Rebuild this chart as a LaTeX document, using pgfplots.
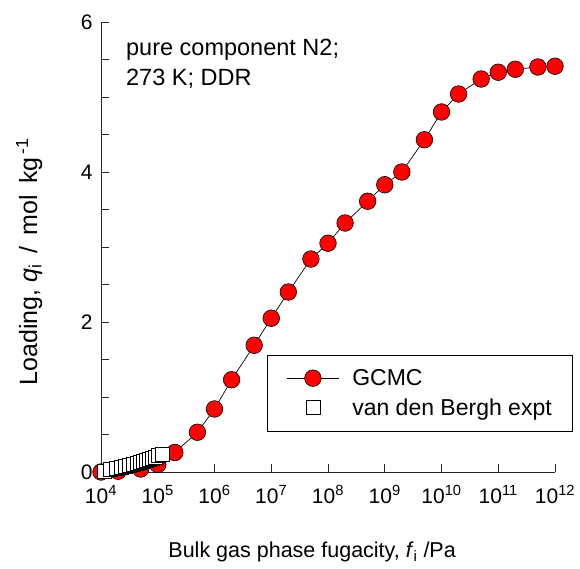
\documentclass[border=0pt]{standalone}
\usepackage{fontspec}
\setmainfont{Liberation Sans}
\usepackage{pgfplots}
\pgfplotsset{compat=1.18}
\begin{document}
\begin{tikzpicture}
\begin{axis}[name=ax, scale only axis, width=454pt, height=450pt,
  xmode=log, xmin=1e4, xmax=1e12, ymin=0, ymax=6,
  axis x line=bottom, axis y line=left,
  axis line style={-, line width=0.8pt, black!85},
  xtick={1e4,1e5,1e6,1e7,1e8,1e9,1e10,1e11,1e12},
  xticklabels={10\textsuperscript{4},10\textsuperscript{5},10\textsuperscript{6},10\textsuperscript{7},10\textsuperscript{8},10\textsuperscript{9},10\textsuperscript{10},10\textsuperscript{11},10\textsuperscript{12}},
  xminorticks=false,
  ytick={0,2,4,6}, minor ytick={0.5,1,1.5,2.5,3,3.5,4.5,5,5.5},
  tick align=inside, major tick length=8pt, minor tick length=8pt,
  tick style={black!85, line width=0.8pt},
  font=\fontsize{21}{25}\selectfont,
  xticklabel style={yshift=-10pt},
  yticklabel style={xshift=-5pt},
  /pgf/number format/assume math mode=true,
  clip=false,
  xlabel={Bulk gas phase fugacity, \textit{f}\textsubscript{i} /Pa},
  ylabel={Loading,\ \textit{q}\textsubscript{i}\ \,/\ \,mol\ \,kg\textsuperscript{\,-1}},
  xlabel style={at={(axis description cs:0.465,-0.178)}, anchor=center, font=\fontsize{21.5}{25}\selectfont},
  ylabel style={at={(axis description cs:-0.158,0.467)}, anchor=center, font=\fontsize{25}{29}\selectfont},
  legend style={at={(axis description cs:1.04,0.26)}, anchor=north east, draw=black, line width=0.8pt,
    inner xsep=19pt, inner ysep=12pt, row sep=8pt, font=\fontsize{23}{27}\selectfont},
  legend cell align=left,
]
\addplot[black, line width=0.7pt, mark=*, mark size=8.3pt, mark options={fill=red, draw=black, line width=0.6pt},
  legend image code/.code={\draw[black, line width=0.7pt] (0pt,0pt) -- (52pt,0pt);
    \draw[fill=red, draw=black, line width=0.6pt] (26pt,0pt) circle (8.3pt);}]
coordinates {
(1e4,0.0) (2e4,0.01) (5e4,0.04) (1e5,0.1) (2e5,0.26) (5e5,0.53)
(1e6,0.84) (2e6,1.23) (5e6,1.69) (1e7,2.05) (2e7,2.40) (5e7,2.84)
(1e8,3.05) (2e8,3.32) (5e8,3.61) (1e9,3.83) (2e9,4.00) (5e9,4.43)
(1e10,4.80) (2e10,5.04) (5e10,5.24) (1e11,5.33) (2e11,5.37) (5e11,5.40) (1e12,5.41)
};
\addlegendentry{\hspace*{11pt}GCMC}
\addplot[only marks, mark=square*, mark size=7pt, mark options={fill=white, draw=black, line width=0.6pt},
  legend image code/.code={\draw[fill=white, draw=black, line width=0.6pt] (19pt,-6pt) rectangle (33pt,8pt);}]
coordinates {
(1.16e4,0.01) (1.48e4,0.03) (1.86e4,0.045) (2.28e4,0.06) (2.72e4,0.07) (3.2e4,0.085)
(3.77e4,0.10) (4.36e4,0.11) (5.0e4,0.125) (5.65e4,0.14) (6.28e4,0.15) (7.0e4,0.165)
(7.9e4,0.18) (8.95e4,0.20) (1.01e5,0.22) (1.19e5,0.24)
};
\addlegendentry{\hspace*{11pt}van den Bergh expt}
\node[anchor=north west, align=left, font=\fontsize{23.5}{30}\selectfont, inner sep=0pt]
  at (axis description cs:0.055,0.962) {pure component N2;\\273 K; DDR};
\end{axis}
\path ([shift={(-101pt,-97pt)}]ax.south west) rectangle ([shift={(25pt,22pt)}]ax.north east);
\end{tikzpicture}
\end{document}
